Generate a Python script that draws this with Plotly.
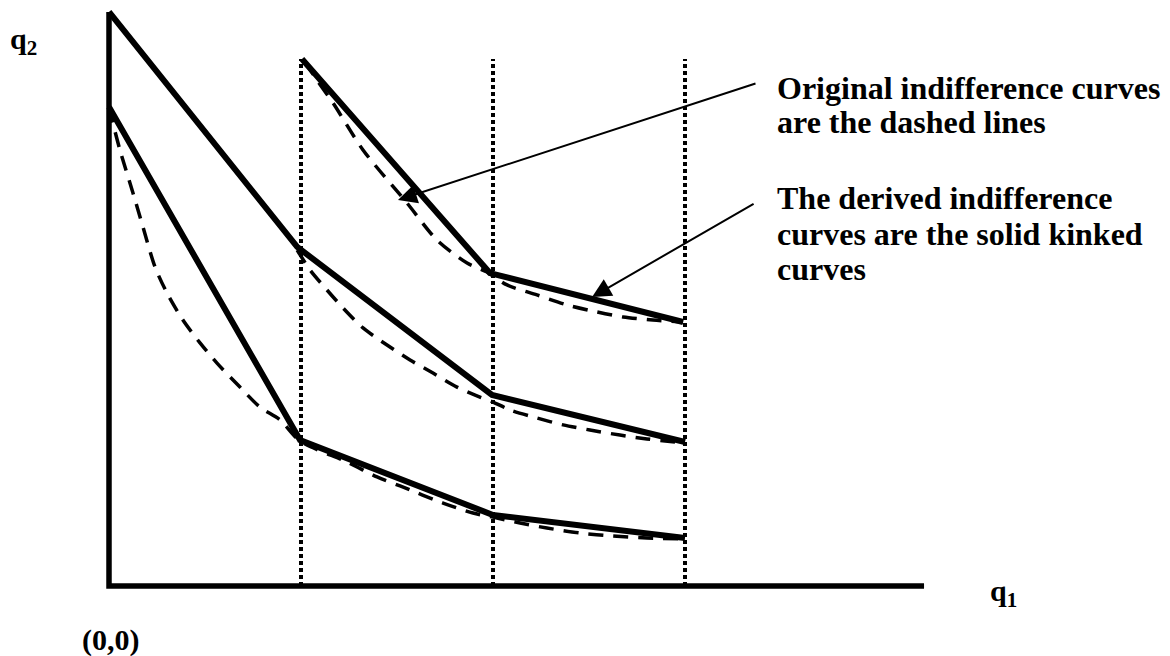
import plotly.graph_objects as go

# ---- data (units: q1, q2) ----
axis_q1 = [0.0, 0.0, 4.245]
axis_q2 = [2.99, 0.0, 0.0]

guide_q1 = [1.0, 2.0, 3.0]
guide_top = 2.745

# solid (derived, kinked) indifference curves
solid_low_q1 = [0.0, 0.995, 2.0, 3.0]
solid_low_q2 = [2.495, 0.76, 0.37, 0.25]
solid_mid_q1 = [0.0, 0.98, 1.995, 3.0]
solid_mid_q2 = [2.99, 1.766, 0.995, 0.75]
solid_top_q1 = [1.005, 1.984, 2.99]
solid_top_q2 = [2.745, 1.63, 1.375]

# dashed (original) indifference curves
dash_low_q1 = [0.0, 0.057, 0.125, 0.177, 0.24, 0.302, 0.385, 0.474, 0.5625, 0.682, 0.786, 0.891,
               0.995, 1.24, 1.396, 1.516, 1.74, 1.896, 2.021, 2.141, 2.281, 2.453, 2.625, 2.802, 2.99]
dash_low_q2 = [2.49, 2.271, 2.047, 1.87, 1.661, 1.526, 1.385, 1.266, 1.161, 1.036, 0.932, 0.865,
               0.755, 0.646, 0.568, 0.521, 0.432, 0.38, 0.354, 0.328, 0.302, 0.276, 0.26, 0.25, 0.245]
dash_mid_q1 = [0.98, 1.047, 1.135, 1.219, 1.323, 1.448, 1.568, 1.6875, 1.8125, 1.932, 2.0,
               2.089, 2.229, 2.365, 2.505, 2.661, 2.802, 2.99]
dash_mid_q2 = [1.75, 1.646, 1.542, 1.448, 1.344, 1.255, 1.177, 1.109, 1.036, 0.984, 0.958,
               0.917, 0.875, 0.839, 0.8125, 0.786, 0.766, 0.745]
dash_top_q1 = [1.021, 1.083, 1.167, 1.323, 1.552, 1.708, 1.865, 1.969, 2.073, 2.229, 2.385,
               2.542, 2.677, 2.833, 2.99]
dash_top_q2 = [2.729, 2.635, 2.516, 2.271, 1.995, 1.802, 1.682, 1.635, 1.568, 1.516, 1.464,
               1.427, 1.401, 1.385, 1.375]

# labels
note1_lines = ["Original indifference curves", "are the dashed lines"]
note1_q2 = [2.594, 2.417]
note2_lines = ["The derived indifference", "curves are the solid kinked", "curves"]
note2_q2 = [2.021, 1.833, 1.651]
note_q1 = 3.47

arrow1_tail = (3.375, 2.62)
arrow1_tip = (1.505, 2.01)
arrow2_tail = (3.365, 1.995)
arrow2_tip = (2.516, 1.505)

FONT = "Liberation Serif"

# the page body adds an 8px margin, so the figure is 8px smaller than the window
FIG_W, FIG_H = 1162, 648
ORIGIN_X, ORIGIN_Y, UNIT = 101, 578, 192

fig = go.Figure()

# guide (dotted) lines
for gx in guide_q1:
    fig.add_trace(go.Scatter(x=[gx, gx], y=[0, guide_top], mode="lines",
                             line=dict(color="black", width=4, dash="4px,3px"),
                             hoverinfo="skip"))

# dashed curves
for xs, ys in [(dash_low_q1, dash_low_q2), (dash_mid_q1, dash_mid_q2), (dash_top_q1, dash_top_q2)]:
    fig.add_trace(go.Scatter(x=xs, y=ys, mode="lines", line_shape="spline",
                             line=dict(color="black", width=3.5, dash="15px,10px", smoothing=0.8),
                             hoverinfo="skip"))

# solid curves
for xs, ys in [(solid_low_q1, solid_low_q2), (solid_mid_q1, solid_mid_q2), (solid_top_q1, solid_top_q2)]:
    fig.add_trace(go.Scatter(x=xs, y=ys, mode="lines",
                             line=dict(color="black", width=6), hoverinfo="skip"))

# axes
fig.add_trace(go.Scatter(x=axis_q1, y=axis_q2, mode="lines",
                         line=dict(color="black", width=5.5), hoverinfo="skip"))

ann = []
for txt, yy in zip(note1_lines, note1_q2):
    ann.append(dict(x=note_q1, y=yy, xref="x", yref="y", text="<b>%s</b>" % txt, showarrow=False,
                    xanchor="left", yanchor="middle", font=dict(family=FONT, size=32, color="black")))
for txt, yy in zip(note2_lines, note2_q2):
    ann.append(dict(x=note_q1, y=yy, xref="x", yref="y", text="<b>%s</b>" % txt, showarrow=False,
                    xanchor="left", yanchor="middle", font=dict(family=FONT, size=32, color="black")))

for tail, tip in [(arrow1_tail, arrow1_tip), (arrow2_tail, arrow2_tip)]:
    ann.append(dict(x=tip[0], y=tip[1], ax=tail[0], ay=tail[1], xref="x", yref="y",
                    axref="x", ayref="y", text="", showarrow=True, arrowhead=2,
                    arrowsize=1.9, arrowwidth=2, arrowcolor="black"))

ann.append(dict(x=-0.525, y=2.84, xref="x", yref="y", text="<b>q<sub>2</sub></b>", showarrow=False,
                xanchor="left", yanchor="middle", font=dict(family=FONT, size=30, color="black")))
ann.append(dict(x=4.58, y=-0.035, xref="x", yref="y", text="<b>q<sub>1</sub></b>", showarrow=False,
                xanchor="left", yanchor="middle", font=dict(family=FONT, size=30, color="black")))
ann.append(dict(x=0.01, y=-0.28, xref="x", yref="y", text="<b>(0,0)</b>", showarrow=False,
                xanchor="center", yanchor="middle", font=dict(family=FONT, size=30, color="black")))

fig.update_layout(
    width=FIG_W, height=FIG_H, margin=dict(l=0, r=0, t=0, b=0),
    paper_bgcolor="white", plot_bgcolor="white", showlegend=False,
    xaxis=dict(range=[-ORIGIN_X / UNIT, (FIG_W - ORIGIN_X) / UNIT], visible=False, fixedrange=True),
    yaxis=dict(range=[-(FIG_H - ORIGIN_Y) / UNIT, ORIGIN_Y / UNIT], visible=False, fixedrange=True),
    annotations=ann,
)

fig.write_html("out.html")
